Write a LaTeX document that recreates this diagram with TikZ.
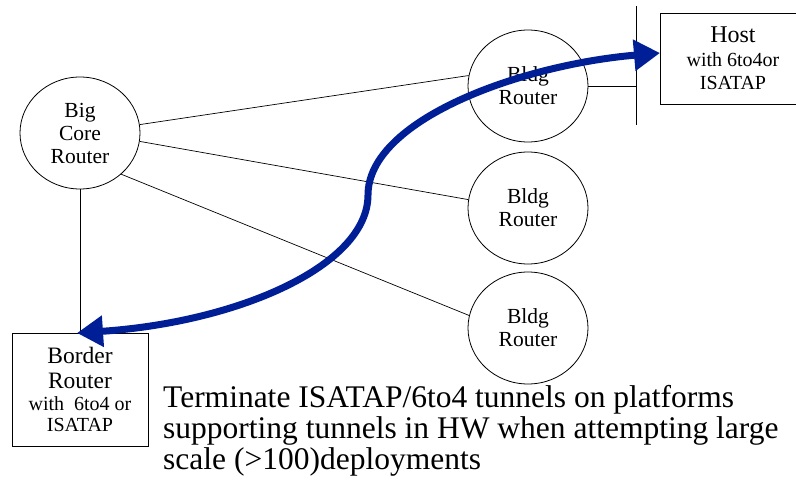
\documentclass[tikz,border=0pt]{standalone}
\usepackage{fontspec}
\setmainfont{Liberation Serif}
\usetikzlibrary{shapes.geometric,arrows.meta}
\definecolor{tunnelblue}{RGB}{0,30,150}
\begin{document}
\begin{tikzpicture}[x=1pt,y=-1pt,
  router/.style={draw,ellipse,line width=0.8pt,minimum width=120pt,minimum height=112pt,inner sep=0pt,align=center,font=\fontsize{21.5}{23}\selectfont},
  boxnode/.style={draw,rectangle,line width=0.8pt,inner sep=0pt,align=center},
  link/.style={line width=0.7pt},
  tunnel/.style={tunnelblue,line width=7pt,{Triangle[length=26pt,width=30pt]}-{Triangle[length=26pt,width=30pt]}}
]
\useasboundingbox (0,0) rectangle (796,481);
\node[router] (core) at (80,133) {Big\\Core\\Router};
\node[router] (b1) at (528,86) {Bldg\\Router};
\node[router] (b2) at (528,208) {Bldg\\Router};
\node[router] (b3) at (528,328) {Bldg\\Router};
\node[boxnode,minimum width=146pt,minimum height=91pt,font=\fontsize{20}{23.5}\selectfont] (host) at (733,58.5)
  {{\fontsize{24}{24}\selectfont Host}\\with 6to4or\\ISATAP};
\node[boxnode,minimum width=136pt,minimum height=113pt,font=\fontsize{20}{21.5}\selectfont] (border) at (80,389.5)
  {{\fontsize{23.5}{24}\selectfont Border}\\[4pt]{\fontsize{23.5}{24}\selectfont Router}\\with\ \ 6to4 or\\ISATAP};
\coordinate (vtop) at (636,6);
\coordinate (vbot) at (636,125);
\draw[link] (vtop) -- (vbot);
\draw[link] (b1.east) -- (b1.east -| vtop);
\draw[link] (core.south) -- (border.north);
\draw[link] (core.8) -- (b1.170);
\draw[link] (core.-8) -- (b2.172);
\draw[link] (core.-45) -- (b3.168);
\node[anchor=north west,align=left,inner sep=0pt,font=\fontsize{31.5}{31}\selectfont] (note) at (163,385)
  {Terminate ISATAP/6to4 tunnels on platforms\\supporting tunnels in HW when attempting large\\scale (>100)deployments};
\coordinate (tl) at (77,333);
\coordinate (tm) at (368,195);
\coordinate (tr) at (660,53);
\draw[tunnel] (tl) .. controls (240,322) and (368,265) .. (tm)
  .. controls (368,120) and (520,65) .. (tr);
\end{tikzpicture}
\end{document}
